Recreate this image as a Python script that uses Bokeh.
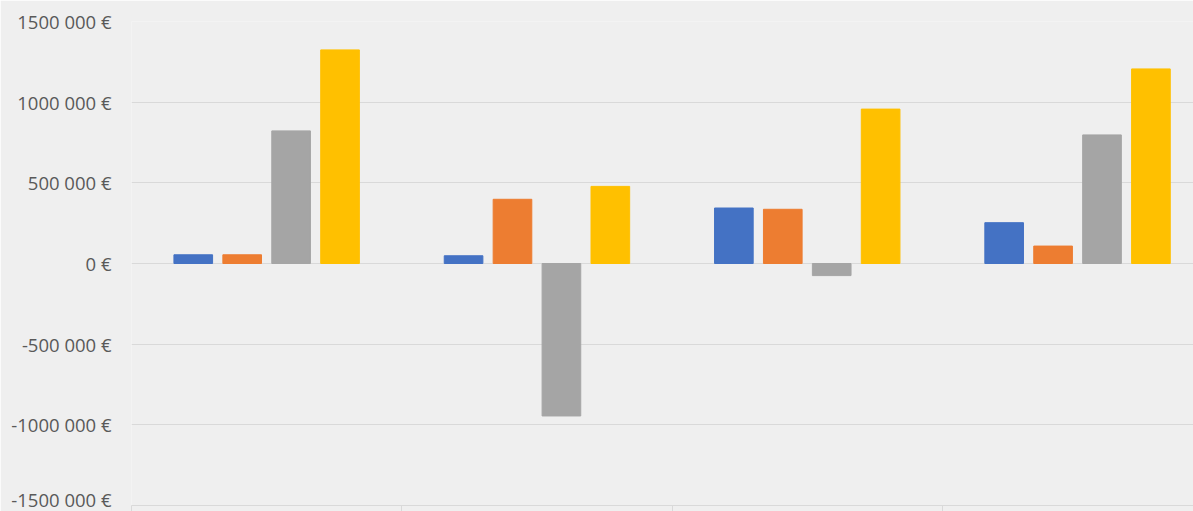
from bokeh.plotting import figure
from bokeh.models import FixedTicker, ColumnDataSource
from bokeh.embed import file_html
from bokeh.resources import INLINE

# ---- data ----
groups = [0, 1, 2, 3]
series_names = ["Série 1", "Série 2", "Série 3", "Série 4"]
serie1 = [54000, 48000, 344000, 253000]
serie2 = [54000, 398000, 336000, 108000]
serie3 = [822000, -945000, -75000, 797000]
serie4 = [1324000, 478000, 957000, 1206000]
colors = ["#4472C4", "#ED7D31", "#A5A5A5", "#FFC000"]
tick_values = [-1500000, -1000000, -500000, 0, 500000, 1000000, 1500000]
tick_labels = ["-1500 000 €", "-1000 000 €", "-500 000 €", "0 €",
               "500 000 €", "1000 000 €", "1500 000 €"]
group_bounds = [-0.5, 0.5, 1.5, 2.5, 3.5]

bg = "#EFEFEF"
p = figure(width=1193, height=511, output_backend="svg", toolbar_location=None,
           x_range=(-0.5, 3.429), y_range=(-1500000, 1500000),
           min_border_left=131, min_border_top=21, min_border_right=0,
           min_border_bottom=6, background_fill_color=bg,
           border_fill_color=bg, outline_line_color=None)

offsets = [-0.2715, -0.0905, 0.0905, 0.2715]
for vals, off, col, name in zip([serie1, serie2, serie3, serie4], offsets, colors, series_names):
    src = ColumnDataSource(dict(x=[g + off for g in groups], top=vals))
    p.vbar(x="x", top="top", bottom=0, width=0.143, source=src,
           fill_color=col, line_color=col, line_width=1)

p.xaxis.ticker = FixedTicker(ticks=group_bounds)
p.xaxis.major_label_text_font_size = "1px"
p.xaxis.major_label_text_color = None
p.xaxis.major_label_standoff = 0
p.xaxis.major_tick_out = 6
p.xaxis.major_tick_in = 0
p.xaxis.minor_tick_line_color = None
p.xaxis.axis_line_color = "#D9D9D9"
p.xaxis.major_tick_line_color = "#D9D9D9"
p.xaxis.axis_line_width = 1.2
p.xgrid.visible = False
p.ygrid.grid_line_color = "#D9D9D9"
p.ygrid.grid_line_width = 1.2
p.yaxis.ticker = FixedTicker(ticks=tick_values)
p.yaxis.major_label_overrides = {v: l for v, l in zip(tick_values, tick_labels)}
p.yaxis.axis_line_color = None
p.yaxis.major_tick_line_color = None
p.yaxis.minor_tick_line_color = None
p.yaxis.major_tick_out = 0
p.yaxis.major_tick_in = 0
p.yaxis.major_label_standoff = 20
p.yaxis.major_label_text_font = "Open Sans"
p.yaxis.major_label_text_font_size = "18.5px"
p.yaxis.major_label_text_color = "#595959"

open("out.html", "w").write(file_html(p, INLINE))
